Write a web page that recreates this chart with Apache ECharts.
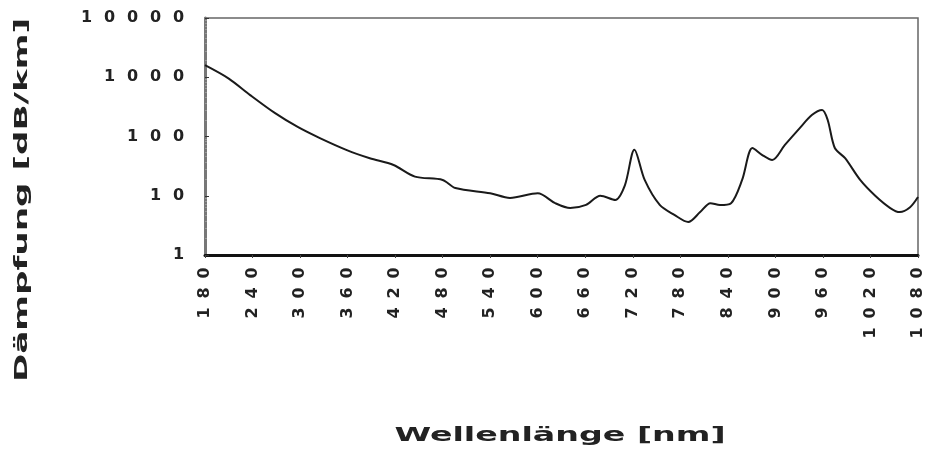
<!DOCTYPE html>
<html>
<head>
<meta charset="utf-8">
<script src="https://cdn.jsdelivr.net/npm/echarts@6/dist/echarts.min.js"></script>
<style>
html,body{margin:0;padding:0;background:#fff;}
#chart{width:932px;height:450px;}
</style>
</head>
<body>
<div id="chart"></div>
<script>
// Wavelength in nm
const wavelength = [180, 210, 237, 268, 297, 325, 359, 388, 418, 445, 480, 496, 540, 565, 600, 622, 641, 661, 679, 698, 710, 722, 735, 754, 773, 790, 805, 818, 830, 844, 858, 871, 883, 896, 912, 931, 946, 959, 966, 975, 988, 1007, 1026, 1045, 1057, 1070, 1080];
// Attenuation in dB/km
const attenuation = [1600, 950, 500, 250, 145, 94, 59, 43, 33, 21, 18.5, 13.5, 11, 9.2, 11, 7.5, 6.2, 7, 10, 8.5, 15, 60, 18.5, 7, 4.7, 3.6, 5.3, 7.5, 7, 7.5, 18.5, 64, 49, 40, 72, 140, 230, 280, 190, 64, 43, 18.5, 10, 6.2, 5.3, 6.4, 9.5];
const xTicks = {min: 180, max: 1080, step: 60};
const yTicks = [1, 10, 100, 1000, 10000];
const xTitle = 'Wellenlänge [nm]';
const yTitle = 'Dämpfung [dB/km]';

function spaced(v) {
  return String(v).split('').map(c => '{d|' + c + '}').join('');
}

const chart = echarts.init(document.getElementById('chart'), null, {renderer: 'canvas'});
const labelStyle = {fontFamily: 'DejaVu Sans', fontWeight: 'bold', fontSize: 16, color: '#222'};

chart.setOption({
  animation: false,
  backgroundColor: '#ffffff',
  grid: {left: 205, right: 14, top: 18, bottom: 195, show: true, borderColor: '#666', borderWidth: 1.5, backgroundColor: 'transparent'},
  xAxis: {
    type: 'value',
    min: xTicks.min, max: xTicks.max, interval: xTicks.step,
    axisLine: {show: true, onZero: false, lineStyle: {color: '#111', width: 3}},
    axisTick: {show: true, length: 3, lineStyle: {color: '#444'}},
    splitLine: {show: false},
    axisLabel: {
      rotate: 90, margin: 8,
      formatter: v => spaced(v),
      rich: {d: Object.assign({width: 20, align: 'center'}, labelStyle)}
    }
  },
  yAxis: {
    type: 'log', logBase: 10,
    min: yTicks[0], max: yTicks[yTicks.length - 1],
    axisLine: {show: true, lineStyle: {color: '#777', width: 3}},
    axisTick: {show: true, inside: true, length: 4, lineStyle: {color: '#333'}},
    minorTick: {show: true, splitNumber: 10, length: 2, lineStyle: {color: '#999'}},
    splitLine: {show: false},
    minorSplitLine: {show: false},
    axisLabel: {
      margin: 15,
      formatter: v => spaced(v),
      rich: {d: Object.assign({width: 23, align: 'center'}, labelStyle)}
    }
  },
  series: [{
    type: 'line',
    data: wavelength.map((w, i) => [w, attenuation[i]]),
    showSymbol: false,
    smooth: 0.3,
    lineStyle: {color: '#1a1a1a', width: 2}
  }],
  graphic: [
    {type: 'text', x: 560, y: 436, scaleX: 1.75,
     style: {text: xTitle, font: 'bold 19px "DejaVu Sans"', fill: '#222', textAlign: 'center', textVerticalAlign: 'middle'}},
    {type: 'text', x: 22, y: 200, rotation: Math.PI / 2, scaleX: 1.9,
     style: {text: yTitle, font: 'bold 18px "DejaVu Sans"', fill: '#222', textAlign: 'center', textVerticalAlign: 'middle'}}
  ]
});
</script>
</body>
</html>
